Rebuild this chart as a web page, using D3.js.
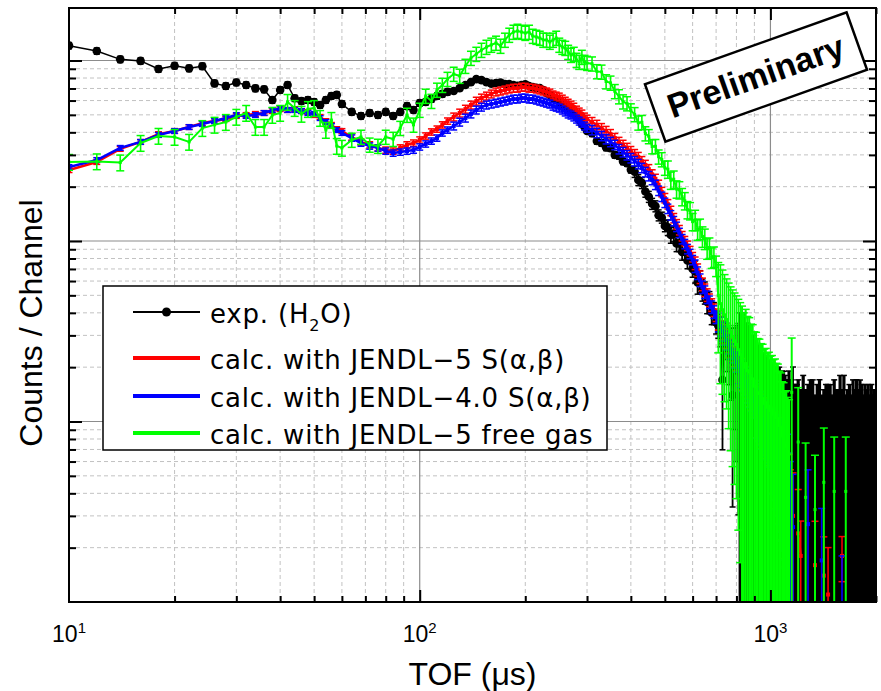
<!DOCTYPE html>
<html>
<head>
<meta charset="utf-8">
<script src="https://cdn.jsdelivr.net/npm/d3@7"></script>
<style>
body { margin: 0; background: #fff; }
svg { display: block; }
</style>
</head>
<body>
<div id="chart"></div>
<script>

// TOF bins (us)
var tof = [10,12,14,16,18,20,22,24,26,28,30,32,34,36,38,40,42,44,46,48,50,52,54,56,58,60,
	64,68,72,76,80,84,88,92,96,100,104,108,112,116,120,
	125,130,135,140,145,150,155,160,165,170,175,180,185,190,195,200,205,210,215,220,225,230,235,240,245,250,255,260,265,270,275,280,285,290,295,300,
	310,320,330,340,350,360,370,380,390,400,410,420,430,440,450,460,470,480,490,500,
	510,520,530,540,550,560,570,580,590,600,610,620,630,640,650,660,670,680,690,700,
	710,720,730,740,750,760,770,780,790,800,810,820,830,840,850,860,870,880,890,900,
	910,920,930,940,950,960,970,980,990,1000,1010,1020,1030,1040,1050,1060,1070,1080,1090,1100,
	1110,1120,1130,1140,1150,1160,1170,1180,1190,1200,
	1220,1240,1260,1280,1300,1320,1340,1360,1380,1400,1420,1440,1460,1480,1500,1520,1540,1560,1580,1600,
	1620,1640,1660,1680,1700,1720,1740,1760,1780,1800,1820,1840,1860,1880,1900,1920,1940,1960,1980,2000];

// exp. (H2O)
var expCounts = [1209,1128,1015,995,897,936,905,930,747,722,756,731,701,692,604,687,731,618,596,604,589,567,604,636,645,574,
	519,493,512,499,519,493,519,559,532,581,589,612,636,653,670,
	678,703,731,759,789,779,759,745,750,756,740,740,731,725,731,738,722,712,705,703,687,661,645,620,604,589,572,552,538,525,508,493,468,445,428,407,
	395,358,349,330,327,300,296,276,270,248,242,218,210,188,176,161,156,139,135,121,
	119,108,110,97,97,87,87,78,78,70,68,59,60,54,52,46,46,40,40,35.5,
	34,32,17,29,27,25,23,14,21,20,19,20,18,19,17,16,15,14,15,13,
	12,13,11,12,10,11,10,9,10,9,8,9,8,9,7,8,7,8,7,8,
	6,7,8,6,7,12,6,7,5,7,
	6,8,5,7,6,7,5,6,8,6,5,7,6,8,5,7,6,5,7,6,
	8,5,7,6,5,7,6,8,5,6,7,5,6,7,6,5,7,6,5,6];
var expErrPct = [4,4,4,4,4,4,4,4,4,4,4,4,4,4,4,4,4,4,4,4,4,4,4,4,4,4,
	4,4,4,4,4,4,4,4,4,4,4,4,4,4,4,
	3,3,3,3,3,3,3,3,3,3,3,3,3,3,3,3,3,3,3,3,3,3,3,3,3,3,3,3,3,3,3,3,3,3,3,3,
	4,4,4,4,4,4,4,4,4,4,7,7,7,7,7,7,7,7,7,7,
	10,10,10,10,10,10,10,10,10,10,14,14,14,14,14,14,14,14,14,14,
	15,19,59,24,30,36,43,76,57,70,84,100,100,111,106,119,113,114,100,115,
	125,108,127,108,140,118,130,156,120,144,163,133,150,122,171,150,157,138,171,125,
	183,143,138,183,143,67,167,129,220,143,
	150,125,200,129,183,143,180,167,113,133,200,129,167,100,180,143,150,200,157,150,
	125,180,114,167,180,143,150,113,200,183,129,180,167,114,167,180,129,133,200,150];

// calc. with JENDL-5 S(a,b)
var js5Counts = [247,274,324,354,391,407,428,450,462,474,493,499,506,512,525,538,532,538,525,519,499,487,462,440,417,407,
	377,354,341,328,319,315,328,341,349,363,382,402,417,440,462,
	487,512,538,567,596,620,636,653,670,678,687,696,703,703,712,712,703,703,696,687,678,670,661,645,636,628,612,596,581,567,552,532,519,506,487,474,
	456,440,422,407,391,372,354,341,328,315,303,292,277,264,250,234,221,205,187,173,
	160,147,134,124,115,106.5,100,94.2,88.1,81.5,75.5,69.1,63.2,57.7,53.5,50.3,47.1,44.3,41.5,38.9,
	36.5,34.2,32.1,30.5,28.7,27.2,25.5,24.2,22.8,21.6,20.5,19.5,18.6,17.6,16.8,15.9,15.1,14.4,13.7,13.2,
	12.5,12.0,11.5,10.9,10.5,10.0,9.6,9.1,8.75,8.3,8.0,7.7,7.3,7.0,6.8,6.5,6.3,6.0,5.8,5.6,
	4.0,null,3.6,2.8,null,3.0,null,null,null,2.4,
	1.8,null,null,null,null,null,1.6,null,null,null,1.4,null,1.1,null,null,null,null,null,null,1.8,
	null,null,null,null,null,null,null,null,null,null,null,null,null,null,null,null,null,null,null,null];
var js5ErrPct = [3,3,3,3,3,3,3,3,3,3,3,3,3,3,3,3,3,3,3,3,3,3,3,3,3,3,
	4,4,4,4,4,4,4,4,4,4,4,4,4,4,4,
	5,5,5,5,5,5,5,5,5,5,5,5,5,5,5,5,5,5,5,5,5,5,5,5,5,5,5,5,5,5,5,5,5,5,5,5,
	6,6,6,6,6,6,6,6,6,6,6,6,6,6,6,6,6,6,6,6,
	6,6,6,6,6,6,6,6,6,6,8,8,8,8,8,8,8,8,8,8,
	12,12,12,12,12,12,12,12,12,12,20,20,20,20,20,20,20,20,20,20,
	35,35,35,35,35,35,35,35,35,35,50,52,55,57,60,62,65,68,70,72,
	85,null,83,93,null,73,null,null,null,75,
	56,null,null,null,null,null,75,null,null,null,64,null,82,null,null,null,null,null,null,28,
	null,null,null,null,null,null,null,null,null,null,null,null,null,null,null,null,null,null,null,null];

// calc. with JENDL-4.0 S(a,b)
var j40Counts = [257,281,328,354,387,407,428,445,462,480,499,493,499,512,532,545,532,532,525,512,506,480,456,434,412,397,
	372,349,336,328,315,307,311,315,319,332,345,358,372,397,412,
	434,456,480,506,532,552,567,574,581,589,596,604,612,612,620,620,612,612,604,596,589,581,574,559,552,545,532,519,506,499,487,474,462,450,434,422,
	412,397,382,367,354,341,323,311,299,288,277,267,254,241,229,218,205,190,176,163,
	151,139,129,120,111,102.5,96.3,90.3,84.8,78.5,72.7,66.5,60.8,55.6,52.2,48.9,45.9,43.1,40.5,37.9,
	35.6,33.8,31.7,30.1,28.3,26.9,25.2,24.0,22.5,21.3,20.3,19.3,18.3,17.4,16.6,15.8,14.95,14.2,13.5,13.0,
	12.4,11.9,11.3,10.8,10.3,9.8,9.45,8.97,8.6,8.2,7.9,7.6,7.2,6.95,6.7,6.4,6.2,6.0,5.7,5.5,
	4.3,5.0,3.5,3.0,null,2.6,null,null,null,null,
	null,null,null,2.7,null,null,null,null,null,1.7,null,null,null,null,null,null,null,null,null,0.9,
	null,null,null,null,null,null,null,null,null,null,null,null,null,null,null,null,null,null,null,null];
var j40ErrPct = [3,3,3,3,3,3,3,3,3,3,3,3,3,3,3,3,3,3,3,3,3,3,3,3,3,3,
	4,4,4,4,4,4,4,4,4,4,4,4,4,4,4,
	5,5,5,5,5,5,5,5,5,5,5,5,5,5,5,5,5,5,5,5,5,5,5,5,5,5,5,5,5,5,5,5,5,5,5,5,
	6,6,6,6,6,6,6,6,6,6,6,6,6,6,6,6,6,6,6,6,
	6,6,6,6,6,6,6,6,6,6,8,8,8,8,8,8,8,8,8,8,
	12,12,12,12,12,12,12,12,12,12,20,20,20,20,20,20,20,20,20,20,
	35,35,35,35,35,35,35,35,35,35,50,52,55,57,60,62,65,68,70,72,
	77,70,91,100,null,96,null,null,null,null,
	null,null,null,100,null,null,null,null,null,94,null,null,null,null,null,null,null,null,null,100,
	null,null,null,null,null,null,null,null,null,null,null,null,null,null,null,null,null,null,null,null];

// calc. with JENDL-5 free gas
var fgCounts = [274,276,272,349,382,377,354,422,440,456,487,512,428,428,499,512,589,545,506,538,545,480,412,468,336,328,
	363,377,341,336,377,367,422,499,440,532,636,596,687,731,789,
	842,821,932,1032,1086,1143,1188,1220,1251,1204,1300,1385,1439,1457,1439,1420,1439,1367,1350,1333,1300,1300,1267,1300,1333,1220,1188,1172,1114,1072,1086,1006,981,1045,981,968,
	960,870,865,765,752,675,632,592,578,528,503,452,455,394,380,334,335,293,283,254,
	250,217,220,194,192,176,167,149,147,128,131,116,117,106,103,91,92,81,82,73,
	50,45,41.6,39,36.7,33.8,31.3,29.6,28,26.7,25,23.6,21.8,20.0,20.9,19.1,18.8,17.3,17.2,15.7,
	15.6,14.4,14.3,13.5,13.4,12.6,12.7,12.0,12.1,11.5,11.6,11.0,11.1,10.5,10.4,9.5,9.3,8.3,8.2,7.3,
	7.4,6.8,6.6,null,14.5,null,null,null,null,7.7,
	null,null,3.8,null,null,null,3.25,null,null,null,4.6,null,null,null,null,4.1,null,null,null,null,
	null,4.1,null,null,null,null,null,null,null,null,null,null,null,null,null,null,null,null,null,null];
var fgErrPct = [10,10,10,10,10,10,10,10,10,10,10,10,10,10,10,10,10,10,10,10,10,10,10,10,10,10,
	9,9,9,9,9,9,9,9,9,9,9,9,9,9,9,
	9,9,9,9,9,9,9,9,9,9,9,9,9,9,9,9,9,9,9,9,9,9,9,9,9,9,9,9,9,9,9,9,9,9,9,9,
	9,9,9,9,9,9,9,9,9,9,9,9,9,9,9,9,9,9,9,9,
	11,11,11,11,11,11,11,11,11,11,13,13,13,13,13,13,13,13,13,13,
	52,64,66,67,68,73,78,81,84,86,90,93,100,100,100,100,100,100,100,100,
	100,100,100,100,100,100,100,100,100,100,100,100,100,100,100,100,100,100,100,100,
	100,100,100,null,100,null,null,null,null,100,
	null,null,100,null,null,null,100,null,null,null,100,null,null,null,null,100,null,null,null,null,
	null,100,null,null,null,null,null,null,null,null,null,null,null,null,null,null,null,null,null,null];

var xLabelValues = [10, 100, 1000];
var legendNames = ['exp. (H', 'calc. with JENDL\u22125 S(\u03b1,\u03b2)', 'calc. with JENDL\u22124.0 S(\u03b1,\u03b2)', 'calc. with JENDL\u22125 free gas'];

[expCounts, expErrPct, js5Counts, js5ErrPct, j40Counts, j40ErrPct, fgCounts, fgErrPct].forEach(function(a, i) {
	if (a.length !== tof.length) throw new Error('array ' + i + ' has ' + a.length + ' values, tof has ' + tof.length);
});

var svgWidth = 881, svgHeight = 691;
var pLeft = 69, pRight = 876, pTop = 8, pBottom = 602;

var x = d3.scaleLog().domain([10, 2000]).range([pLeft, pRight]);
var y = d3.scaleLog().domain([1, 1954]).range([pBottom, pTop]);

var svg = d3.select('#chart').append('svg')
	.attr('width', svgWidth)
	.attr('height', svgHeight);

function isMajor(v) {
	var l = Math.log10(v);
	return Math.abs(l - Math.round(l)) < 1e-6;
}

var xMinor = x.ticks().filter(function(v) { return !isMajor(v); });
var xMajor = x.ticks().filter(function(v) { return isMajor(v) && v > 10; });
var yMinor = y.ticks().filter(function(v) { return !isMajor(v); });
var yMajor = y.ticks().filter(function(v) { return isMajor(v) && v > 1; });

// grid
var grid = svg.append('g');
grid.selectAll('.gxm').data(xMinor).enter().append('line')
	.attr('x1', x).attr('x2', x).attr('y1', pTop).attr('y2', pBottom)
	.attr('stroke', '#c2c2c2').attr('stroke-width', 1).attr('stroke-dasharray', '4,3');
grid.selectAll('.gym').data(yMinor).enter().append('line')
	.attr('x1', pLeft).attr('x2', pRight).attr('y1', y).attr('y2', y)
	.attr('stroke', '#c2c2c2').attr('stroke-width', 1).attr('stroke-dasharray', '4,3');
grid.selectAll('.gxM').data(xMajor).enter().append('line')
	.attr('x1', x).attr('x2', x).attr('y1', pTop).attr('y2', pBottom)
	.attr('stroke', '#8c8c8c').attr('stroke-width', 1.2);
grid.selectAll('.gyM').data(yMajor).enter().append('line')
	.attr('x1', pLeft).attr('x2', pRight).attr('y1', y).attr('y2', y)
	.attr('stroke', '#8c8c8c').attr('stroke-width', 1.2);

svg.append('clipPath').attr('id', 'plotclip').append('rect')
	.attr('x', pLeft).attr('y', pTop).attr('width', pRight - pLeft).attr('height', pBottom - pTop);

var plot = svg.append('g').attr('clip-path', 'url(#plotclip)');

function drawSeries(counts, errPct, o) {
	var all = tof.map(function(t, i) {
		var v = counts[i];
		if (v == null) return { t: t, v: null };
		var e = v * errPct[i] / 100;
		return { t: t, v: v, lo: v - e, hi: v + e };
	});
	var pts = all.filter(function(d) { return d.v != null; });
	var g = plot.append('g');

	// bars that run off the bottom of the log axis are drawn a little wider
	g.selectAll('.eb').data(pts).enter().append('line')
		.attr('x1', function(d) { return x(d.t); })
		.attr('x2', function(d) { return x(d.t); })
		.attr('y1', function(d) { return y(d.hi); })
		.attr('y2', function(d) { return d.lo >= 1 ? y(d.lo) : pBottom + 10; })
		.attr('stroke', o.color)
		.attr('stroke-width', function(d) { return d.lo >= 1 ? o.barWidth : o.tailWidth; });

	g.selectAll('.caphi').data(pts).enter().append('line')
		.attr('x1', function(d) { return x(d.t) - o.cap / 2; })
		.attr('x2', function(d) { return x(d.t) + o.cap / 2; })
		.attr('y1', function(d) { return y(d.hi); })
		.attr('y2', function(d) { return y(d.hi); })
		.attr('stroke', o.color).attr('stroke-width', 1.5);

	g.selectAll('.caplo').data(pts.filter(function(d) { return d.lo >= 1; })).enter().append('line')
		.attr('x1', function(d) { return x(d.t) - o.cap / 2; })
		.attr('x2', function(d) { return x(d.t) + o.cap / 2; })
		.attr('y1', function(d) { return y(d.lo); })
		.attr('y2', function(d) { return y(d.lo); })
		.attr('stroke', o.color).attr('stroke-width', 1.5);

	var line = d3.line()
		.defined(function(d) { return d.v != null && d.v > 0; })
		.x(function(d) { return x(d.t); })
		.y(function(d) { return y(d.v); });

	g.append('path').datum(all)
		.attr('d', line)
		.attr('fill', 'none')
		.attr('stroke', o.color)
		.attr('stroke-width', o.lineWidth)
		.attr('stroke-linejoin', 'round');

	var vis = pts.filter(function(d) { return d.v >= 1; });
	if (o.marker === 'circle') {
		g.selectAll('.mk').data(vis).enter().append('circle')
			.attr('cx', function(d) { return x(d.t); })
			.attr('cy', function(d) { return y(d.v); })
			.attr('r', o.size)
			.attr('fill', o.color);
	} else if (o.size > 0) {
		g.selectAll('.mk').data(vis).enter().append('rect')
			.attr('x', function(d) { return x(d.t) - o.size / 2; })
			.attr('y', function(d) { return y(d.v) - o.size / 2; })
			.attr('width', o.size).attr('height', o.size)
			.attr('fill', o.color);
	}
}

drawSeries(expCounts, expErrPct, { color: '#000000', barWidth: 1.8, tailWidth: 3.2, cap: 6, lineWidth: 1.5, marker: 'circle', size: 4.3 });
drawSeries(js5Counts, js5ErrPct, { color: '#ff0000', barWidth: 1.5, tailWidth: 1.6, cap: 7, lineWidth: 2.5, marker: 'square', size: 4 });
drawSeries(j40Counts, j40ErrPct, { color: '#0000ff', barWidth: 1.5, tailWidth: 1.6, cap: 7, lineWidth: 2.5, marker: 'square', size: 4 });
drawSeries(fgCounts, fgErrPct, { color: '#00ff00', barWidth: 1.6, tailWidth: 2, cap: 8, lineWidth: 2, marker: 'square', size: 3 });

// frame
svg.append('rect')
	.attr('x', pLeft).attr('y', pTop).attr('width', pRight - pLeft).attr('height', pBottom - pTop)
	.attr('fill', 'none').attr('stroke', '#000').attr('stroke-width', 2);

function tickAxis(axis, tx, ty) {
	var g = svg.append('g').attr('transform', 'translate(' + tx + ',' + ty + ')').call(axis);
	g.select('.domain').remove();
	g.selectAll('text').remove();
	g.selectAll('line').attr('stroke', '#000').attr('stroke-width', 2);
}
tickAxis(d3.axisBottom(x).tickValues(xMinor).tickSize(-6).tickFormat(''), 0, pBottom);
tickAxis(d3.axisBottom(x).tickValues(xMajor).tickSize(-12).tickFormat(''), 0, pBottom);
tickAxis(d3.axisTop(x).tickValues(xMinor).tickSize(-6).tickFormat(''), 0, pTop);
tickAxis(d3.axisTop(x).tickValues(xMajor).tickSize(-12).tickFormat(''), 0, pTop);
tickAxis(d3.axisLeft(y).tickValues(yMinor).tickSize(-7).tickFormat(''), pLeft, 0);
tickAxis(d3.axisLeft(y).tickValues(yMajor).tickSize(-13).tickFormat(''), pLeft, 0);
tickAxis(d3.axisRight(y).tickValues(yMinor).tickSize(-7).tickFormat(''), pRight, 0);
tickAxis(d3.axisRight(y).tickValues(yMajor).tickSize(-13).tickFormat(''), pRight, 0);

// x tick labels
svg.selectAll('.xlab').data(xLabelValues).enter().append('text')
	.attr('x', function(d) { return x(d); })
	.attr('y', 642)
	.attr('text-anchor', 'middle')
	.style('font-family', '"Liberation Sans", Arial, sans-serif')
	.style('font-size', '23px')
	.style('fill', '#000')
	.each(function(d) {
		var t = d3.select(this);
		t.append('tspan').text('10');
		t.append('tspan').attr('dy', -9).style('font-size', '15px').text(Math.round(Math.log10(d)));
	});

// axis titles
svg.append('text')
	.attr('x', (pLeft + pRight) / 2).attr('y', 685)
	.attr('text-anchor', 'middle')
	.style('font-family', '"Liberation Sans", Arial, sans-serif')
	.style('font-size', '32px')
	.text('TOF (\u03bcs)');

svg.append('text')
	.attr('transform', 'translate(42,323) rotate(-90)')
	.attr('text-anchor', 'middle')
	.style('font-family', '"Liberation Sans", Arial, sans-serif')
	.style('font-size', '32px')
	.text('Counts / Channel');

// legend
var legendColors = ['#000000', '#ff0000', '#0000ff', '#00ff00'];
var legendRowY = [312, 358, 396, 433];
var legend = svg.append('g');
legend.append('rect')
	.attr('x', 103).attr('y', 286).attr('width', 504).attr('height', 164)
	.attr('fill', '#fff').attr('stroke', '#000').attr('stroke-width', 1.5);

legendNames.forEach(function(name, i) {
	var ly = legendRowY[i];
	legend.append('line')
		.attr('x1', 133).attr('x2', 200).attr('y1', ly).attr('y2', ly)
		.attr('stroke', legendColors[i]).attr('stroke-width', i === 0 ? 2 : 4);
	if (i === 0) {
		legend.append('circle').attr('cx', 166.5).attr('cy', ly).attr('r', 4.5).attr('fill', '#000');
	}
	var t = legend.append('text')
		.attr('x', 210).attr('y', ly + 11)
		.style('font-family', '"DejaVu Sans", sans-serif')
		.style('font-size', '26px')
		.style('letter-spacing', '0.8px')
		.style('fill', '#000');
	t.append('tspan').text(name);
	if (i === 0) {
		t.append('tspan').attr('dy', 8).style('font-size', '16px').text('2');
		t.append('tspan').attr('dy', -8).text('O)');
	}
});

// Preliminary stamp
var stamp = svg.append('g').attr('transform', 'translate(756,77) rotate(-19.6)');
stamp.append('rect')
	.attr('x', -107).attr('y', -30.5).attr('width', 214).attr('height', 61)
	.attr('fill', '#fff').attr('stroke', '#000').attr('stroke-width', 2.5);
stamp.append('text')
	.attr('x', 0).attr('y', 11)
	.attr('text-anchor', 'middle')
	.style('font-family', '"Liberation Sans", Arial, sans-serif')
	.style('font-weight', 'bold')
	.style('font-size', '34px')
	.text('Preliminary');

</script>
</body>
</html>
